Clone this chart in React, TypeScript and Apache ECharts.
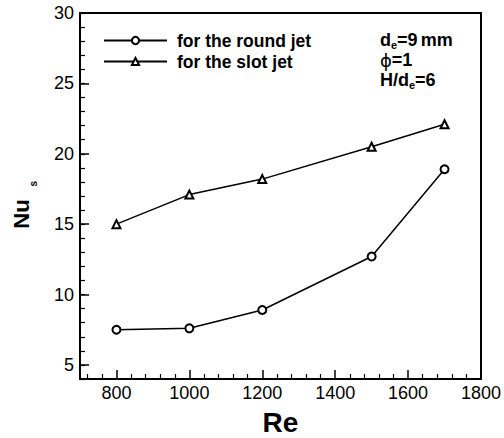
import { useEffect, useRef } from 'react';
import * as echarts from 'echarts';

// Stagnation Nusselt number vs. Reynolds number
const reynolds = [800, 1000, 1200, 1500, 1700];
const nuRoundJet = [7.5, 7.6, 8.9, 12.7, 18.9];
const nuSlotJet = [15.0, 17.1, 18.2, 20.5, 22.1];

const seriesNames = ['for the round jet', 'for the slot jet'];
const xMajorTicks = [800, 1000, 1200, 1400, 1600, 1800];
const yMajorTicks = [5, 10, 15, 20, 25, 30];

const X_MIN = 700;
const X_MAX = 1800;
const Y_MIN = 4;
const Y_MAX = 30;

const FONT = '"Liberation Sans", Arial, Helvetica, sans-serif';

// minor ticks every 40 on the Re axis, skipping the labelled ones
const xMinorTicks: number[] = [];
for (let v = 720; v < X_MAX; v += 40) {
  if (v % 200 !== 0) xMinorTicks.push(v);
}

const GRID = { left: 80, right: 23, top: 13, bottom: 59, outerBoundsMode: 'none' };

export default function App() {
  const ref = useRef<HTMLDivElement>(null);

  useEffect(() => {
    if (!ref.current) return;
    const chart = echarts.init(ref.current, undefined, { renderer: 'svg' });

    const lineStyle = { color: '#000', width: 1.5 };
    const black = '#000';

    chart.setOption({
      animation: false,
      backgroundColor: '#fff',
      grid: [
        { ...GRID, show: true, borderColor: black, borderWidth: 2, backgroundColor: 'transparent' },
        { ...GRID, show: false },
      ],
      xAxis: [
        {
          gridIndex: 0,
          type: 'value',
          min: X_MIN,
          max: X_MAX,
          axisLine: { show: true, lineStyle: { color: black, width: 2 } },
          axisTick: { show: true, inside: true, length: 5, customValues: xMinorTicks, lineStyle: { color: black, width: 1.2 } },
          axisLabel: { show: false },
          splitLine: { show: false },
        },
        {
          gridIndex: 1,
          type: 'value',
          min: X_MIN,
          max: X_MAX,
          axisLine: { show: false },
          axisTick: { show: true, inside: true, length: 9, customValues: xMajorTicks, lineStyle: { color: black, width: 1.5 } },
          axisLabel: {
            show: true,
            customValues: xMajorTicks,
            formatter: (v: number) => String(v),
            margin: 5,
            color: black,
            fontSize: 18,
            fontFamily: FONT,
          },
          splitLine: { show: false },
          name: 'Re',
          nameLocation: 'middle',
          nameGap: 29,
          nameTextStyle: { color: black, fontSize: 28, fontWeight: 'bold', fontFamily: FONT },
        },
      ],
      yAxis: [
        {
          gridIndex: 0,
          type: 'value',
          min: Y_MIN,
          max: Y_MAX,
          interval: 1,
          axisLine: { show: true, lineStyle: { color: black, width: 2 } },
          axisTick: { show: true, inside: true, length: 5, lineStyle: { color: black, width: 1.2 } },
          axisLabel: { show: false },
          splitLine: { show: false },
          // rotated title; the subscript is added as a separate text below
          name: 'Nu',
          nameLocation: 'middle',
          nameRotate: 90,
          nameGap: 48,
          nameTextStyle: {
            color: black,
            fontSize: 22,
            fontWeight: 'bold',
            fontFamily: FONT,
            padding: [0, 36, 0, 0],
          },
        },
        {
          gridIndex: 1,
          type: 'value',
          min: Y_MIN,
          max: Y_MAX,
          axisLine: { show: false },
          axisTick: { show: true, inside: true, length: 9, customValues: yMajorTicks, lineStyle: { color: black, width: 1.5 } },
          axisLabel: {
            show: true,
            customValues: yMajorTicks,
            formatter: (v: number) => String(v),
            margin: 6,
            color: black,
            fontSize: 18,
            fontFamily: FONT,
          },
          splitLine: { show: false },
        },
      ],
      legend: {
        left: 103,
        top: 31,
        padding: 0,
        orient: 'vertical',
        itemWidth: 63,
        itemHeight: 9,
        itemGap: 2,
        selectedMode: false,
        textStyle: {
          color: black,
          fontSize: 17.5,
          fontWeight: 'bold',
          fontFamily: FONT,
          lineHeight: 19,
          padding: [0, 0, 0, 5],
        },
        data: seriesNames,
      },
      series: [
        {
          type: 'line',
          name: seriesNames[0],
          xAxisIndex: 0,
          yAxisIndex: 0,
          data: reynolds.map((re, i) => [re, nuRoundJet[i]]),
          symbol: 'emptyCircle',
          symbolSize: 8,
          lineStyle,
          itemStyle: { color: black, borderWidth: 1.5 },
        },
        {
          type: 'line',
          name: seriesNames[1],
          xAxisIndex: 0,
          yAxisIndex: 0,
          data: reynolds.map((re, i) => [re, nuSlotJet[i]]),
          symbol: 'emptyTriangle',
          symbolSize: 8,
          lineStyle,
          itemStyle: { color: black, borderWidth: 1.5 },
        },
      ],
      graphic: [
        // subscript s of the y-axis title
        {
          type: 'text',
          x: 28.5,
          y: 186.5,
          rotation: Math.PI / 2,
          style: { text: 's', fill: black, font: `bold 10px ${FONT}` },
        },
        // parameter annotation
        {
          type: 'text',
          x: 380,
          y: 30,
          style: {
            text: '{m|d}{s|e}{m|=9}{g|mm}\n{p|\u03d5}{m|=1}\n{m|H/d}{s|e}{m|=6}',
            fill: black,
            textVerticalAlign: 'top',
            rich: {
              m: { fontSize: 18, fontWeight: 'bold', fontFamily: FONT, lineHeight: 20, fill: black },
              g: { fontSize: 18, fontWeight: 'bold', fontFamily: FONT, lineHeight: 20, fill: black, padding: [0, 0, 0, 3] },
              p: { fontSize: 18, fontWeight: 'normal', fontFamily: '"DejaVu Sans", ' + FONT, lineHeight: 20, fill: black },
              s: { fontSize: 11, fontWeight: 'bold', fontFamily: FONT, lineHeight: 11, verticalAlign: 'bottom', fill: black },
            },
          },
        },
      ],
    });

    return () => chart.dispose();
  }, []);

  return (
    <div
      ref={ref}
      style={{ position: 'fixed', left: 0, top: 0, width: 504, height: 438 }}
    />
  );
}
